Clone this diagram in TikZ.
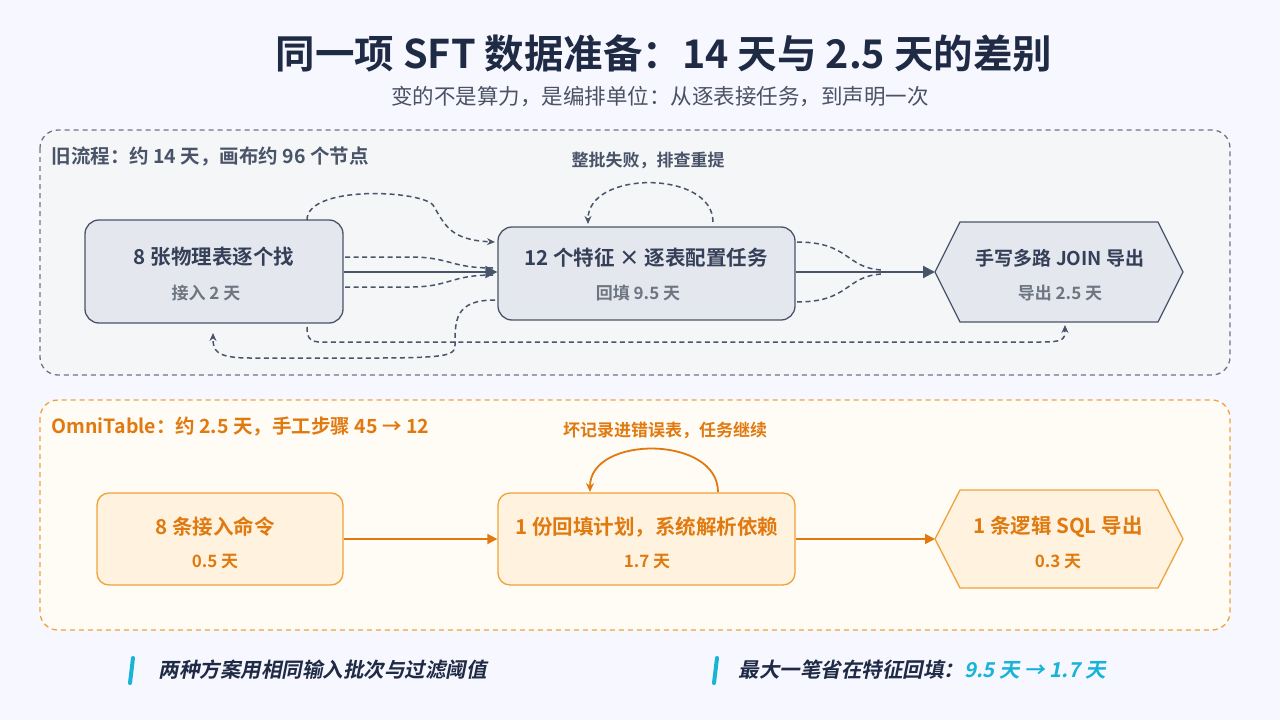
\documentclass[tikz,border=0pt]{standalone}
\usepackage{fontspec}
\setmainfont{Noto Sans CJK SC}
\newfontfamily\cjkb{Noto Sans CJK SC Bold}
\newfontfamily\cjkbi[FakeSlant=0.2]{Noto Sans CJK SC Bold}
\usetikzlibrary{arrows.meta}
\definecolor{navy}{HTML}{1F2A44}
\definecolor{gtxt}{HTML}{4A5263}
\definecolor{gline}{HTML}{4A5468}
\definecolor{gfill}{HTML}{E4E8EE}
\definecolor{ofill}{HTML}{FFF2DE}
\definecolor{oline}{HTML}{F0A23A}
\definecolor{otxt}{HTML}{E07A10}
\definecolor{cyan1}{HTML}{18B4D8}
\begin{document}
\begin{tikzpicture}[x=1pt,y=-1pt,
 gbox/.style={draw=gline,fill=gfill,line width=1.3pt,rounded corners=14pt},
 obox/.style={draw=oline,fill=ofill,line width=1.3pt,rounded corners=12pt},
 main/.style={font=\cjkb\fontsize{20.5}{23}\selectfont},
 sub/.style={font=\cjkb\fontsize{17}{20}\selectfont},
 garr/.style={draw=gline,line width=2.2pt,-{Triangle[length=12pt,width=12pt]}},
 oarr/.style={draw=otxt,line width=1.8pt,-{Triangle[length=10pt,width=10pt]}},
 dsh/.style={draw=gline,line width=1.5pt,dash pattern=on 5pt off 3.5pt,-{Stealth[length=8pt,width=7pt]}},
 dshn/.style={draw=gline,line width=1.5pt,dash pattern=on 5pt off 3.5pt}]
\fill[white!97!blue] (0,0) rectangle (1280,720);
\useasboundingbox (0,0) rectangle (1280,720);
\node[font=\cjkb\fontsize{39.5}{44}\selectfont,text=navy] (t) at (664,53) {同一项 SFT 数据准备：14 天与 2.5 天的差别};
\node[font=\fontsize{21.5}{25}\selectfont,text=gtxt] (st) at (660,97) {变的不是算力，是编排单位：从逐表接任务，到声明一次};
% top panel
\draw[gline!80,line width=1.3pt,dash pattern=on 5pt off 4pt,fill=gfill!40,rounded corners=18pt] (40,130) rectangle (1230,375);
\node[anchor=west,font=\cjkb\fontsize{19.5}{22}\selectfont,text=gline] (l1) at (48,157) {旧流程：约 14 天，画布约 96 个节点};
\node[gbox,minimum width=258pt,minimum height=103pt] (A) at (214,271.5) {};
\node[main,text=navy!90] at (214,257) {8 张物理表逐个找};
\node[sub,text=gtxt!80] at (206,293) {接入 2 天};
\node[gbox,minimum width=297pt,minimum height=93pt] (B) at (646.5,273.5) {};
\node[main,text=navy!90] at (646,258) {12 个特征 × 逐表配置任务};
\node[sub,text=gtxt!80] at (638,293) {回填 9.5 天};
\draw[gline,line width=1.3pt,fill=gfill] (935,272) -- (960,222) -- (1158,222) -- (1183,272) -- (1158,322) -- (960,322) -- cycle;
\coordinate (C) at (935,272);
\coordinate (Cb) at (1065,325);
\node[main,text=navy!90,font=\cjkb\fontsize{19}{22}\selectfont] at (1060,258) {手写多路 JOIN 导出};
\node[sub,text=gtxt!80] at (1060,293) {导出 2.5 天};
\draw[garr] (A.east |- 0,272) -- (B.west |- 0,272);
\draw[garr] (B.east |- 0,272) -- (C);
\draw[dsh] (307,220) .. controls (307,185) and (420,190) .. (433,205) .. controls (445,225) and (450,240) .. (495,242);
\draw[dshn] (345,257) -- (410,257) .. controls (450,257) and (450,268) .. (493,268);
\draw[dshn] (345,287) -- (410,287) .. controls (450,287) and (450,275) .. (493,275);
\draw[dsh] (495,300) .. controls (455,300) and (455,320) .. (455,345) .. controls (455,360) and (440,358) .. (250,358) .. controls (215,358) and (213,350) .. (213,333);
\draw[dsh] (307,327) .. controls (307,345) and (315,342) .. (340,342) -- (1040,342) .. controls (1063,342) and (1065,340) .. (Cb);
\draw[dsh] (713,222) .. controls (713,170) and (588,170) .. (588,224);
\node[font=\cjkb\fontsize{17}{20}\selectfont,text=gline] (lp1) at (648,160) {整批失败，排查重提};
\draw[dshn] (797,242) .. controls (850,242) and (845,268) .. (882,270);
\draw[dshn] (797,302) .. controls (850,302) and (845,276) .. (882,274);
% bottom panel
\draw[oline,line width=1.3pt,dash pattern=on 5pt off 4pt,fill=ofill!30,rounded corners=18pt] (40,400) rectangle (1230,630);
\node[anchor=west,font=\cjkb\fontsize{19.5}{22}\selectfont,text=otxt] (l2) at (48,427) {OmniTable：约 2.5 天，手工步骤 45 → 12};
\node[obox,minimum width=246pt,minimum height=92pt] (D) at (220,539) {};
\node[main,text=otxt] at (215,527) {8 条接入命令};
\node[sub,text=otxt] at (215,562) {0.5 天};
\node[obox,minimum width=297pt,minimum height=92pt] (E) at (646.5,539) {};
\node[main,text=otxt] at (647,527) {1 份回填计划，系统解析依赖};
\node[sub,text=otxt] at (647,562) {1.7 天};
\draw[oline,line width=1.3pt,fill=ofill] (935,539) -- (960,490) -- (1158,490) -- (1183,539) -- (1158,588) -- (960,588) -- cycle;
\coordinate (F) at (935,539);
\node[main,text=otxt] at (1058,527) {1 条逻辑 SQL 导出};
\node[sub,text=otxt] at (1058,562) {0.3 天};
\draw[oarr] (D.east |- 0,539) -- (E.west |- 0,539);
\draw[oarr] (E.east |- 0,539) -- (F);
\draw[otxt,line width=1.8pt,-{Stealth[length=9pt,width=8pt]}] (718,492) .. controls (718,435) and (590,435) .. (590,492);
\node[font=\cjkb\fontsize{17}{20}\selectfont,text=otxt] (lp2) at (665,430) {坏记录进错误表，任务继续};
% notes
\draw[cyan1,line width=4pt,line cap=round] (133,658) -- (130,683);
\node[anchor=west,font=\cjkbi\fontsize{20.5}{23}\selectfont,text=navy] (n1) at (155,670) {两种方案用相同输入批次与过滤阈值};
\draw[cyan1,line width=4pt,line cap=round] (717,658) -- (714,683);
\node[anchor=west,font=\cjkbi\fontsize{20.5}{23}\selectfont,text=navy] (n2) at (735,670) {最大一笔省在特征回填：\textcolor{cyan1}{9.5 天 → 1.7 天}};
\end{tikzpicture}
\end{document}
